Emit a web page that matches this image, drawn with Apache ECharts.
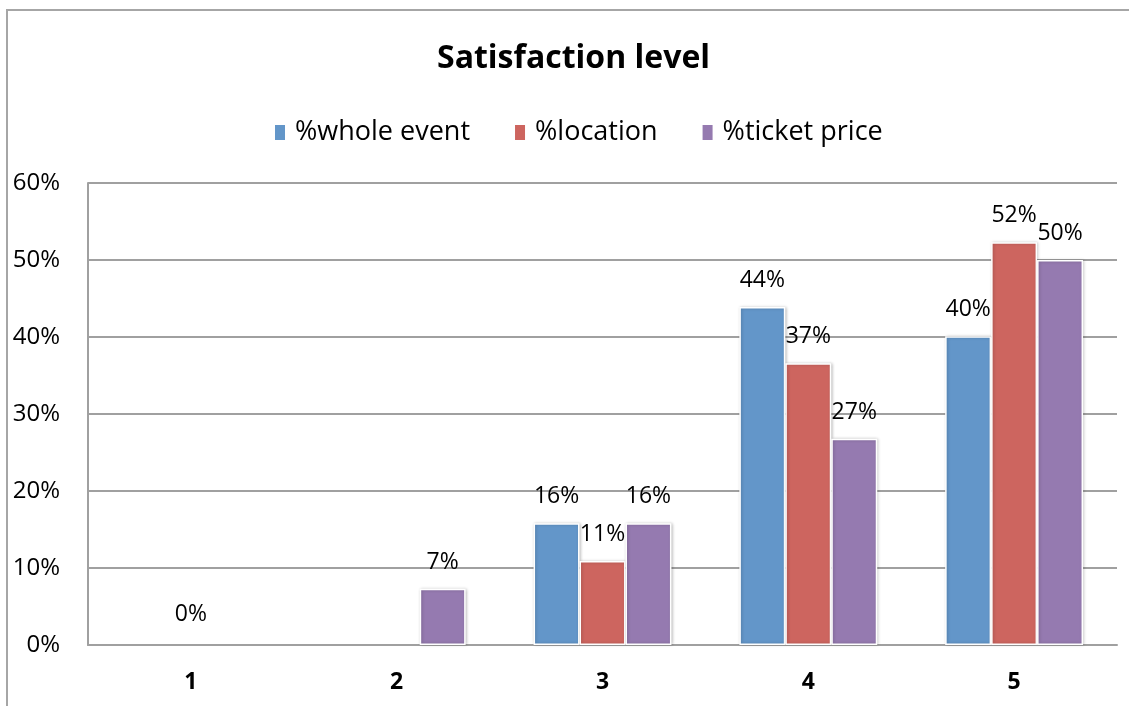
<!DOCTYPE html>
<html>
<head>
<meta charset="utf-8">
<script src="https://cdn.jsdelivr.net/npm/echarts@6/dist/echarts.min.js"></script>
<style>
html,body{margin:0;padding:0;background:#fff;}
#c{width:1129px;height:706px;}
</style>
</head>
<body>
<div id="c"></div>
<script>
const categories = ['1', '2', '3', '4', '5'];
const wholeEvent = [null, null, 15.8, 43.9, 40.1];
const location_ = [0, null, 10.9, 36.6, 52.3];
const ticketPrice = [null, 7.3, 15.8, 26.8, 50.0];
const yTicks = [0, 10, 20, 30, 40, 50, 60];

const FONT = 'Open Sans';
const chart = echarts.init(document.getElementById('c'), null, {renderer: 'canvas'});

function mkSeries(name, data, color) {
  return {
    name: name,
    type: 'bar',
    data: data.map(v => v === 0 ? {value: 0, label: {distance: 19},
      itemStyle: {borderWidth: 0, shadowBlur: 0, shadowOffsetX: 0, color: 'rgba(0,0,0,0)'}} : v),
    barGap: '0%',
    barCategoryGap: '33%',
    itemStyle: {color: color, borderColor: '#ffffff', borderWidth: 1.5,
      shadowColor: 'rgba(0,0,0,0.22)', shadowBlur: 3, shadowOffsetX: 1, shadowOffsetY: 0},
    label: {show: true, position: 'top', distance: 15, color: '#000',
      fontFamily: FONT, fontSize: 23,
      formatter: p => (p.value == null ? '' : Math.round(p.value) + '%')},
    emphasis: {disabled: true}
  };
}

chart.setOption({
  animation: false,
  backgroundColor: '#ffffff',
  graphic: [{type: 'rect', shape: {x: 7, y: 10, width: 1140, height: 720},
    style: {fill: 'none', stroke: '#a6a6a6', lineWidth: 2}, silent: true}],
  title: {text: 'Satisfaction level', left: 432, top: 38,
    textStyle: {fontFamily: FONT, fontSize: 32, fontWeight: 'bold', color: '#000'}},
  legend: {top: 114, left: 268, itemWidth: 12, itemHeight: 17, itemGap: 43,
    icon: 'rect',
    textStyle: {fontFamily: FONT, fontSize: 27, color: '#000', padding: [0,0,0,4]},
    data: ['%whole event', '%location', '%ticket price']},
  grid: {left: 88, right: 12, top: 183, bottom: 61, containLabel: false},
  xAxis: {type: 'category', data: categories,
    axisLine: {lineStyle: {color: '#a0a0a0', width: 2}},
    axisTick: {show: false},
    axisLabel: {fontFamily: FONT, fontSize: 23, fontWeight: 'bold', color: '#000', margin: 26}},
  yAxis: {type: 'value', min: yTicks[0], max: yTicks[yTicks.length-1], interval: 10,
    axisLine: {show: true, lineStyle: {color: '#a0a0a0', width: 2}},
    axisTick: {show: false},
    splitLine: {lineStyle: {color: '#a0a0a0', width: 2}},
    axisLabel: {fontFamily: FONT, fontSize: 24, color: '#000', margin: 28,
      formatter: v => v + '%'}},
  series: [
    mkSeries('%whole event', wholeEvent, '#6396c9'),
    mkSeries('%location', location_, '#cd655f'),
    mkSeries('%ticket price', ticketPrice, '#957ab0')
  ]
});
</script>
</body>
</html>
